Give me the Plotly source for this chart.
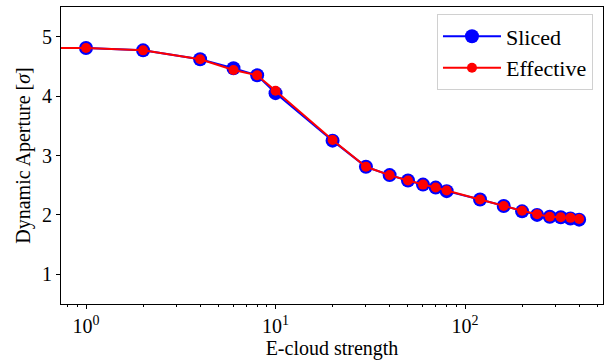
import plotly.graph_objects as go

# E-cloud strength (0 is clipped on the log axis like matplotlib does)
strength = [0, 1, 2, 4, 6, 8, 10, 20, 30, 40, 50, 60, 70, 80, 120, 160, 200, 240, 280, 320, 360, 400]
da_sliced = [4.81, 4.81, 4.77, 4.62, 4.47, 4.35, 4.05, 3.25, 2.81, 2.67, 2.58, 2.51, 2.46, 2.40, 2.26, 2.15, 2.06, 2.00, 1.97, 1.96, 1.94, 1.92]
da_effective = [4.81, 4.81, 4.77, 4.62, 4.44, 4.35, 4.09, 3.26, 2.81, 2.67, 2.58, 2.51, 2.46, 2.41, 2.26, 2.15, 2.07, 2.01, 1.97, 1.96, 1.95, 1.93]

x_major = [1, 10, 100]
x_major_text = ["10<sup>0</sup>", "10<sup>1</sup>", "10<sup>2</sup>"]
x_minor = [d * m for d in (0.1, 1, 10, 100) for m in range(2, 10)]
y_ticks = [1, 2, 3, 4, 5]

CLIP = 1e-2
x_plot = [s if s > 0 else CLIP for s in strength]

FONT = "Liberation Serif, Times New Roman, serif"

fig = go.Figure()
fig.add_trace(go.Scatter(
    x=x_plot, y=da_sliced, mode="lines+markers", name="Sliced", legendgroup="a",
    line=dict(color="#0000ff", width=2),
    marker=dict(color="#0000ff", size=14),
))
fig.add_trace(go.Scatter(
    x=x_plot, y=da_effective, mode="lines+markers", name="Effective", legendgroup="b",
    line=dict(color="#ff0000", width=2),
    marker=dict(color="#ff0000", size=10),
))

fig.update_layout(
    width=605, height=362,
    margin=dict(l=61, r=2, t=7, b=58, autoexpand=False),
    plot_bgcolor="white", paper_bgcolor="white",
    font=dict(family=FONT, size=20, color="black"),
    showlegend=True,
    legend=dict(
        x=0.9815, y=0.975, xanchor="right", yanchor="top",
        bgcolor="rgba(255,255,255,0.8)", bordercolor="#d0d0d0", borderwidth=1,
        font=dict(family=FONT, size=22, color="black"),
        tracegroupgap=0, itemwidth=58,
    ),
    xaxis=dict(
        type="log", range=[-0.132, 2.728], automargin=False,
        tickmode="array", tickvals=x_major, ticktext=x_major_text,
        ticks="outside", ticklen=4, tickwidth=1, tickcolor="black",
        minor=dict(tickmode="array", tickvals=x_minor, ticks="outside", ticklen=2, tickcolor="black", showgrid=False),
        showline=True, linecolor="black", linewidth=1, mirror=True,
        showgrid=False, zeroline=False,
        title=dict(text="E-cloud strength", font=dict(family=FONT, size=20), standoff=2),
        tickfont=dict(family=FONT, size=20),
    ),
    yaxis=dict(
        range=[0.5, 5.5], automargin=False,
        tickmode="array", tickvals=y_ticks,
        ticks="outside", ticklen=4, tickwidth=1, tickcolor="black",
        showline=True, linecolor="black", linewidth=1, mirror=True,
        showgrid=False, zeroline=False,
        title=dict(text="Dynamic Aperture [<i>σ</i>]", font=dict(family=FONT, size=20), standoff=6),
        tickfont=dict(family=FONT, size=20),
    ),
)

fig.write_html(
    "out.html",
    config={"displayModeBar": False},
    post_script="document.body.style.margin='0';document.body.style.overflow='hidden';",
)
